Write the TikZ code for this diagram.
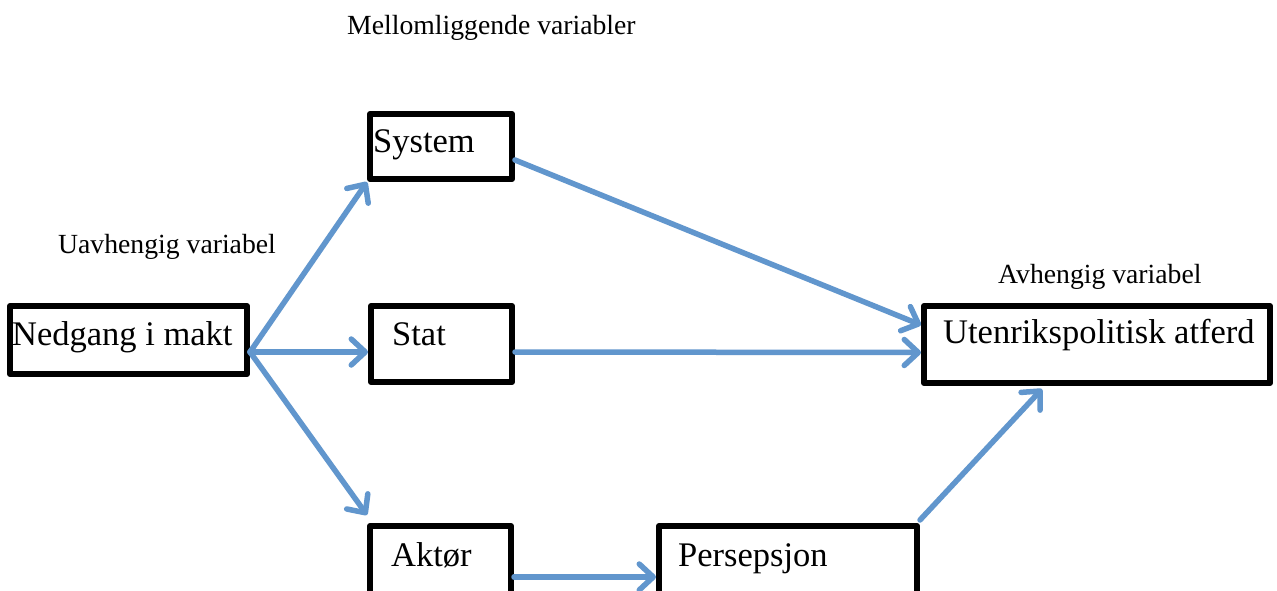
\documentclass[tikz,border=0pt]{standalone}
\usepackage{fontspec}
\setmainfont{Liberation Serif}
\usetikzlibrary{arrows.meta}
\definecolor{arrowblue}{RGB}{97,150,205}
\tikzset{
  box/.style={draw=black, line width=6pt, line join=round, rectangle, inner sep=0pt, anchor=north west},
  boxtext/.style={anchor=base west, inner sep=0pt, font=\fontsize{34.5}{40}\selectfont},
  label/.style={anchor=base west, inner sep=0pt, font=\fontsize{27.7}{32}\selectfont},
  conn/.style={draw=arrowblue, line width=5.5pt, line cap=round,
    -{Straight Barb[length=14pt,width=26pt,line cap=round,line join=round]}}
}
\begin{document}
\begin{tikzpicture}[x=1pt,y=-1pt]
\clip (0,0) rectangle (1277,591);
\fill[white] (0,0) rectangle (1277,591);
% boxes
\node[box, minimum width=237pt, minimum height=68pt] (ned) at (7,303) {};
\node[box, minimum width=142pt, minimum height=65pt] (sys) at (367,111) {};
\node[box, minimum width=141pt, minimum height=76pt] (stat) at (368,303) {};
\node[box, minimum width=346pt, minimum height=77pt] (ute) at (921,303) {};
\node[box, minimum width=141pt, minimum height=120pt] (akt) at (367,523) {};
\node[box, minimum width=258pt, minimum height=120pt] (per) at (656,523) {};
% box texts
\node[boxtext] (nedT) at (12,345) {Nedgang i makt};
\node[boxtext] (sysT) at (373,153) {System};
\node[boxtext] (statT) at (392,345) {Stat};
\node[boxtext] (uteT) at (943,343) {Utenrikspolitisk atferd};
\node[boxtext] (aktT) at (391,566) {Aktør};
\node[boxtext] (perT) at (678,566) {Persepsjon};
% labels
\node[label] (mellom) at (347,35) {Mellomliggende variabler};
\node[label] (uavh) at (58,253) {Uavhengig variabel};
\node[label] (avh) at (998,283) {Avhengig variabel};
% connectors
\draw[conn] ([yshift=-12pt]ned.east) -- (sys.south west);
\draw[conn] ([yshift=-12pt]ned.east) -- ([yshift=-8pt]stat.west);
\draw[conn] ([yshift=-12pt]ned.east) -- ([yshift=8pt]akt.north west);
\draw[conn] ([yshift=-13.5pt]sys.east) -- ([yshift=19.5pt]ute.west);
\draw[conn] ([yshift=-8pt]stat.east) -- ([yshift=-8pt]ute.west);
\draw[conn] ([yshift=-54pt]akt.north east) -- ([yshift=-54pt]per.north west);
\draw[conn] ([yshift=3pt]per.north east) -- ([xshift=-55pt,yshift=-3pt]ute.south);
\end{tikzpicture}
\end{document}
